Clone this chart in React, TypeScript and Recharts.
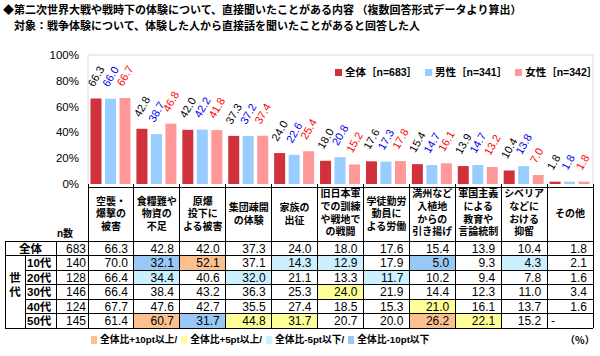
import React from 'react';
import { BarChart, Bar, XAxis, YAxis, CartesianGrid, ReferenceLine, LabelList, Legend } from 'recharts';

const JP = '"Noto Sans CJK JP", "Noto Sans", sans-serif';
const MIX = '"Liberation Sans", "Noto Sans CJK JP", sans-serif';
const LATIN = '"Liberation Sans", Arial, sans-serif';

const titleLine1 = '◆第二次世界大戦や戦時下の体験について、直接聞いたことがある内容 （複数回答形式データより算出）';
const titleLine2 = '対象：戦争体験について、体験した人から直接話を聞いたことがあると回答した人';

const categories = [
  '空襲・\n爆撃の\n被害',
  '食糧難や\n物資の\n不足',
  '原爆\n投下に\nよる被害',
  '集団疎開\nの体験',
  '家族の\n出征',
  '旧日本軍\nでの訓練\nや戦地で\nの戦闘',
  '学徒勤労\n動員に\nよる労働',
  '満州など\n入植地\nからの\n引き揚げ',
  '軍国主義\nによる\n教育や\n言論統制',
  'シベリア\nなどに\nおける\n抑留',
  'その他',
];

const seriesNames = ['全体［n=683］', '男性［n=341］', '女性［n=342］'];
const seriesColors = ['#d0313a', '#99ccff', '#ff9999'];
const labelColors = ['#000000', '#0000ee', '#ff0000'];

const totalValues = [66.3, 42.8, 42.0, 37.3, 24.0, 18.0, 17.6, 15.4, 13.9, 10.4, 1.8];
const maleValues = [66.0, 38.7, 42.2, 37.2, 22.6, 20.8, 17.3, 14.7, 14.7, 13.8, 1.8];
const femaleValues = [66.7, 46.8, 41.8, 37.4, 25.4, 15.2, 17.8, 16.1, 13.2, 7.0, 1.8];

const yTicks = [0, 20, 40, 60, 80, 100];

const rowLabels = ['全体', '10代', '20代', '30代', '40代', '50代'];
const rowN = [683, 140, 128, 146, 124, 145];
const age10 = [70.0, 32.1, 52.1, 37.1, 14.3, 12.9, 17.9, 5.0, 9.3, 4.3, 2.1];
const age20 = [66.4, 34.4, 40.6, 32.0, 21.1, 13.3, 11.7, 10.2, 9.4, 7.8, 1.6];
const age30 = [66.4, 38.4, 43.2, 36.3, 25.3, 24.0, 21.9, 14.4, 12.3, 11.0, 3.4];
const age40 = [67.7, 47.6, 42.7, 35.5, 27.4, 18.5, 15.3, 21.0, 16.1, 13.7, 1.6];
const age50: (number | null)[] = [61.4, 60.7, 31.7, 44.8, 31.7, 20.7, 20.0, 26.2, 22.1, 15.2, null];
const rowValues: (number | null)[][] = [totalValues, age10, age20, age30, age40, age50];

// o: +10pt, y: +5pt, c: -5pt, b: -10pt
const markTotal = ['', '', '', '', '', '', '', '', '', '', ''];
const mark10 = ['', 'b', 'o', '', 'c', 'c', '', 'b', '', 'c', ''];
const mark20 = ['', 'c', '', 'c', '', '', 'c', '', '', '', ''];
const mark30 = ['', '', '', '', '', 'y', '', '', '', '', ''];
const mark40 = ['', '', '', '', '', '', '', 'y', '', '', ''];
const mark50 = ['', 'o', 'b', 'y', 'y', '', '', 'o', 'y', '', ''];
const rowMarks = [markTotal, mark10, mark20, mark30, mark40, mark50];

const markKeys = ['o', 'y', 'c', 'b'];
const markLabels = ['全体比+10pt以上/', '全体比+5pt以上/', '全体比-5pt以下/', '全体比-10pt以下'];
const markColors: Record<string, string> = { o: '#fac090', y: '#ffff99', c: '#cdf0ff', b: '#99c8f4' };

// layout
const PLOT_LEFT = 88;
const PLOT_RIGHT = 593;
const CW = (PLOT_RIGHT - PLOT_LEFT) / categories.length;
const HEADER_TOP = 187;
const HEADER_BOTTOM = 241;
const ROW_H = 14.5;

function makeLabel(color: string) {
  return (props: any) => {
    const x = Number(props.x);
    const y = Number(props.y);
    const w = Number(props.width);
    const v = Number(props.value);
    const px = x + w / 2 - 2;
    const py = y - 11;
    return (
      <text x={px} y={py} fill={color} fontSize={11} fontFamily={LATIN} transform={`rotate(-60 ${px} ${py})`}>
        {v.toFixed(1)}
      </text>
    );
  };
}

function renderLegend(props: any) {
  const payload = [...(props.payload || [])].sort(
    (a: any, b: any) => seriesNames.indexOf(a.value) - seriesNames.indexOf(b.value)
  );
  return (
    <div style={{ display: 'flex', whiteSpace: 'nowrap', fontSize: 10.5, fontWeight: 700, fontFamily: MIX, lineHeight: '14px', color: '#000' }}>
      {payload.map((p: any, i: number) => (
        <span key={i} style={{ display: 'inline-flex', alignItems: 'center', marginRight: 8 }}>
          <span style={{ display: 'inline-block', width: 7, height: 7, background: p.color, marginRight: 3 }} />
          {p.value}
        </span>
      ))}
    </div>
  );
}

function Table() {
  const right = PLOT_RIGHT;
  const rowTop = (i: number) => HEADER_BOTTOM + i * ROW_H;
  const bottom = rowTop(rowLabels.length);
  const lines: React.ReactNode[] = [];
  const k = (s: string) => s + lines.length;
  lines.push(<line key={k('h')} x1={PLOT_LEFT} x2={right} y1={HEADER_TOP} y2={HEADER_TOP} />);
  for (let i = 0; i <= rowLabels.length; i++) {
    const x1 = i === 0 || i === 1 || i === rowLabels.length ? 5 : 25;
    lines.push(<line key={k('r')} x1={x1} x2={right} y1={rowTop(i)} y2={rowTop(i)} />);
  }
  for (let j = 0; j <= categories.length; j++) {
    const x = PLOT_LEFT + j * CW;
    lines.push(<line key={k('v')} x1={x} x2={x} y1={184} y2={bottom} />);
  }
  lines.push(<line key={k('v')} x1={5} x2={5} y1={rowTop(0)} y2={bottom} />);
  lines.push(<line key={k('v')} x1={25} x2={25} y1={rowTop(1)} y2={bottom} />);
  lines.push(<line key={k('v')} x1={56} x2={56} y1={rowTop(0)} y2={bottom} />);

  return (
    <svg width={600} height={356} style={{ position: 'absolute', left: 0, top: 0, pointerEvents: 'none' }}>
      {rowMarks.map((row, i) =>
        row.map((m, j) =>
          m ? (
            <rect key={`m${i}-${j}`} x={PLOT_LEFT + j * CW} y={rowTop(i)} width={CW} height={ROW_H} fill={markColors[m]} />
          ) : null
        )
      )}
      <g stroke="#000" strokeWidth={1} shapeRendering="crispEdges">{lines}</g>
      {categories.map((c, j) => {
        const parts = c.split('\n');
        const n = parts.length;
        const pitch = n >= 4 ? 12.6 : n === 3 ? 12.8 : 13.5;
        const center = n >= 4 ? 212.5 : 213.5;
        return (
          <text key={`hd${j}`} fontFamily={JP} fontWeight={700} fontSize={10} textAnchor="middle" fill="#000">
            {parts.map((p, q) => (
              <tspan key={q} x={PLOT_LEFT + j * CW + CW / 2} y={center - ((n - 1) * pitch) / 2 + 3.8 + q * pitch}>
                {p}
              </tspan>
            ))}
          </text>
        );
      })}
      <text x={57} y={237} fontFamily={MIX} fontWeight={700} fontSize={10} fill="#000">n数</text>
      <text x={15} y={282} fontFamily={JP} fontWeight={700} fontSize={11.5} textAnchor="middle" fill="#000">世</text>
      <text x={15} y={296} fontFamily={JP} fontWeight={700} fontSize={11.5} textAnchor="middle" fill="#000">代</text>
      {rowLabels.map((l, i) => (
        <g key={`row${i}`}>
          <text
            x={i === 0 ? 30.5 : 27}
            y={rowTop(i) + 11.5}
            textAnchor={i === 0 ? 'middle' : 'start'}
            fontFamily={MIX}
            fontWeight={700}
            fontSize={11.5}
            fill="#000"
          >
            {l}
          </text>
          <text x={86} y={rowTop(i) + 11.5} textAnchor="end" fontFamily={LATIN} fontSize={12} fill="#000">
            {rowN[i]}
          </text>
          {rowValues[i].map((v, j) =>
            v === null ? (
              <text key={j} x={PLOT_LEFT + j * CW + 4} y={rowTop(i) + 11.5} fontFamily={LATIN} fontSize={12} fill="#000">-</text>
            ) : (
              <text key={j} x={PLOT_LEFT + (j + 1) * CW - 6} y={rowTop(i) + 11.5} textAnchor="end" fontFamily={LATIN} fontSize={12} fill="#000">
                {v.toFixed(1)}
              </text>
            )
          )}
        </g>
      ))}
    </svg>
  );
}

export default function App() {
  const data = categories.map((c, i) => ({
    name: c,
    total: totalValues[i],
    male: maleValues[i],
    female: femaleValues[i],
  }));
  const boundaries = categories.map((_, i) => i).concat([categories.length]);
  const keys = ['total', 'male', 'female'];

  return (
    <div style={{ position: 'absolute', left: 0, top: 0, width: 600, height: 356, background: '#fff', overflow: 'hidden', fontFamily: JP }}>
      <div style={{ position: 'absolute', left: 3, top: 2, fontSize: 11, fontWeight: 700, lineHeight: '14px', whiteSpace: 'nowrap' }}>
        {titleLine1}
      </div>
      <div style={{ position: 'absolute', left: 14, top: 18, fontSize: 11, fontWeight: 700, lineHeight: '14px', whiteSpace: 'nowrap' }}>
        {titleLine2}
      </div>
      <div style={{ position: 'absolute', left: 0, top: 0 }}>
        <BarChart width={600} height={190} data={data} margin={{ top: 55, right: 7, left: 0, bottom: 0 }} barCategoryGap={2.5} barGap={3.5}>
          <CartesianGrid xAxisId="grid" horizontal={false} stroke="#d9d9d9" />
          <XAxis dataKey="name" hide />
          <XAxis
            xAxisId="grid"
            type="number"
            domain={[0, categories.length]}
            ticks={boundaries}
            interval={0}
            allowDataOverflow
            tick={false}
            tickSize={4}
            height={6}
            axisLine={{ stroke: '#000' }}
            tickLine={{ stroke: '#000' }}
          />
          <YAxis
            domain={[0, 100]}
            ticks={yTicks}
            interval={0}
            width={88}
            axisLine={false}
            tickLine={false}
            tickMargin={3}
            tickFormatter={(v: number) => `${v}%`}
            tick={{ fontSize: 11.5, fill: '#000', fontFamily: LATIN }}
          />
          <ReferenceLine y={100} stroke="#d9d9d9" />
          <Legend
            content={renderLegend}
            layout="horizontal"
            verticalAlign="middle"
            align="center"
            wrapperStyle={{ top: 65, left: 335, width: 'auto', height: 'auto' }}
          />
          {keys.map((key, s) => (
            <Bar key={key} dataKey={key} name={seriesNames[s]} fill={seriesColors[s]} isAnimationActive={false}>
              <LabelList dataKey={key} content={makeLabel(labelColors[s])} />
            </Bar>
          ))}
        </BarChart>
      </div>
      <Table />
      <div style={{ position: 'absolute', left: 91, top: 334, fontSize: 9.75, fontFamily: MIX, fontWeight: 700, lineHeight: '12px', whiteSpace: 'nowrap', display: 'flex', alignItems: 'center' }}>
        {markKeys.map((m, i) => (
          <span key={m} style={{ display: 'inline-flex', alignItems: 'center', marginRight: 4 }}>
            <span style={{ display: 'inline-block', width: 6, height: 8, background: markColors[m], marginRight: 3 }} />
            {markLabels[i]}
          </span>
        ))}
      </div>
      <div style={{ position: 'absolute', left: 565, top: 334, fontSize: 10, fontWeight: 700, lineHeight: '12px', whiteSpace: 'nowrap' }}>
        （%）
      </div>
    </div>
  );
}
